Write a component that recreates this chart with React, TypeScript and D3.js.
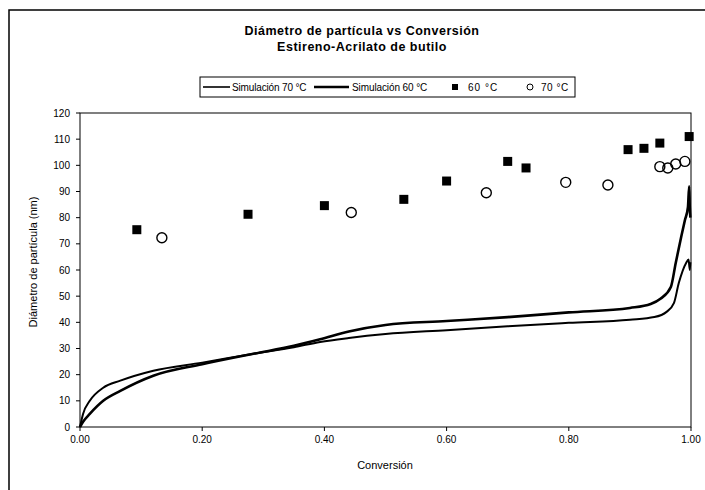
import React from "react";
import * as d3 from "d3";

const xTicks = [0, 0.2, 0.4, 0.6, 0.8, 1.0];
const yTicks = [0, 10, 20, 30, 40, 50, 60, 70, 80, 90, 100, 110, 120];

// Simulación 60 °C (thicker)
const sim60X = [0, 0.005, 0.016, 0.038, 0.066, 0.12, 0.2, 0.284, 0.35, 0.393, 0.44, 0.5, 0.6, 0.7, 0.8, 0.9, 0.934, 0.95, 0.967, 0.975, 0.984, 0.99, 0.995, 0.997, 0.998, 0.999];
const sim60Y = [0, 2, 5, 10, 13.8, 19.6, 24, 28, 31, 33.5, 36.5, 39, 40.5, 42, 43.8, 45.5, 47, 49, 53.5, 62.7, 72.7, 79, 84, 92, 84, 80];
// Simulación 70 °C (thin)
const sim70X = [0, 0.005, 0.016, 0.038, 0.066, 0.12, 0.2, 0.284, 0.35, 0.393, 0.44, 0.5, 0.6, 0.7, 0.8, 0.9, 0.94, 0.96, 0.972, 0.98, 0.992, 0.996, 0.998, 0.999];
const sim70Y = [0, 5, 10, 15, 17.7, 21.5, 24.6, 28, 30.5, 32.5, 34, 35.5, 37, 38.5, 39.8, 41, 42, 44, 47.3, 55, 62.7, 64, 60, 63];

const exp60X = [0.093, 0.275, 0.4, 0.53, 0.6, 0.7, 0.73, 0.897, 0.923, 0.949, 0.997];
const exp60Y = [75.4, 81.3, 84.6, 87, 94, 101.5, 99, 106, 106.5, 108.5, 111];
const exp70X = [0.134, 0.444, 0.665, 0.795, 0.864, 0.949, 0.962, 0.975, 0.99];
const exp70Y = [72.3, 82, 89.5, 93.5, 92.5, 99.5, 99, 100.5, 101.5];

const W = 705, H = 490;
const L = 80, R = 691, T = 113, B = 427;
const FONT = "'Liberation Sans', Arial, sans-serif";

export default function App() {
  const x = d3.scaleLinear().domain([0, 1]).range([L, R]);
  const y = d3.scaleLinear().domain([0, 120]).range([B, T]);
  const line = d3.line<[number, number]>().x(d => x(d[0])).y(d => y(d[1])).curve(d3.curveMonotoneX);
  const s60 = sim60X.map((v, i) => [v, sim60Y[i]] as [number, number]);
  const s70 = sim70X.map((v, i) => [v, sim70Y[i]] as [number, number]);

  return (
    <svg width={W} height={H} style={{ position: "absolute", left: 0, top: 0, background: "#fff" }} fontFamily={FONT}>
      <rect x={0} y={0} width={W} height={H} fill="#fff" />
      <rect x={9} y={10} width={720} height={500} fill="none" stroke="#000" strokeWidth={1.5} />
      <text x={362} y={35} textAnchor="middle" fontSize={12.5} fontWeight="bold" letterSpacing={0.5}>Diámetro de partícula vs Conversión</text>
      <text x={362} y={51} textAnchor="middle" fontSize={12.5} fontWeight="bold" letterSpacing={0.5}>Estireno-Acrilato de butilo</text>

      {/* legend */}
      <rect x={200} y={77} width={375} height={20} fill="none" stroke="#000" strokeWidth={1} />
      <line x1={203} x2={230} y1={87} y2={87} stroke="#000" strokeWidth={1.6} />
      <text x={232} y={91} fontSize={10} letterSpacing={-0.15}>Simulación 70 °C</text>
      <line x1={314} x2={349} y1={87} y2={87} stroke="#000" strokeWidth={2.6} />
      <text x={352} y={91} fontSize={10} letterSpacing={-0.1}>Simulación 60 °C</text>
      <rect x={452} y={84} width={6} height={6} fill="#000" />
      <text x={468} y={91} fontSize={10} letterSpacing={1}>60 °C</text>
      <circle cx={530} cy={87} r={3} fill="none" stroke="#000" strokeWidth={1} />
      <text x={541} y={91} fontSize={10} letterSpacing={0.5}>70 °C</text>

      {/* plot frame */}
      <rect x={L} y={T} width={R - L} height={B - T} fill="none" stroke="#000" strokeWidth={1} />
      {yTicks.map(t => (
        <g key={"y" + t}>
          <line x1={L - 4} x2={L} y1={y(t)} y2={y(t)} stroke="#000" />
          <text x={L - 10} y={y(t) + 3.5} textAnchor="end" fontSize={10}>{t}</text>
        </g>
      ))}
      {xTicks.map(t => (
        <g key={"x" + t}>
          <line x1={x(t)} x2={x(t)} y1={B} y2={B + 4} stroke="#000" />
          <text x={x(t)} y={B + 16} textAnchor="middle" fontSize={10}>{t.toFixed(2)}</text>
        </g>
      ))}
      <text x={385} y={469} textAnchor="middle" fontSize={11}>Conversión</text>
      <text transform={`translate(37,262) rotate(-90)`} textAnchor="middle" fontSize={11}>Diámetro de partícula (nm)</text>

      <path d={line(s70) || ""} fill="none" stroke="#000" strokeWidth={2} />
      <path d={line(s60) || ""} fill="none" stroke="#000" strokeWidth={2.6} />

      {exp60X.map((v, i) => (
        <rect key={"s" + i} x={x(v) - 4.5} y={y(exp60Y[i]) - 4.5} width={9} height={9} fill="#000" />
      ))}
      {exp70X.map((v, i) => (
        <circle key={"c" + i} cx={x(v)} cy={y(exp70Y[i])} r={5} fill="none" stroke="#000" strokeWidth={1.4} />
      ))}
    </svg>
  );
}
